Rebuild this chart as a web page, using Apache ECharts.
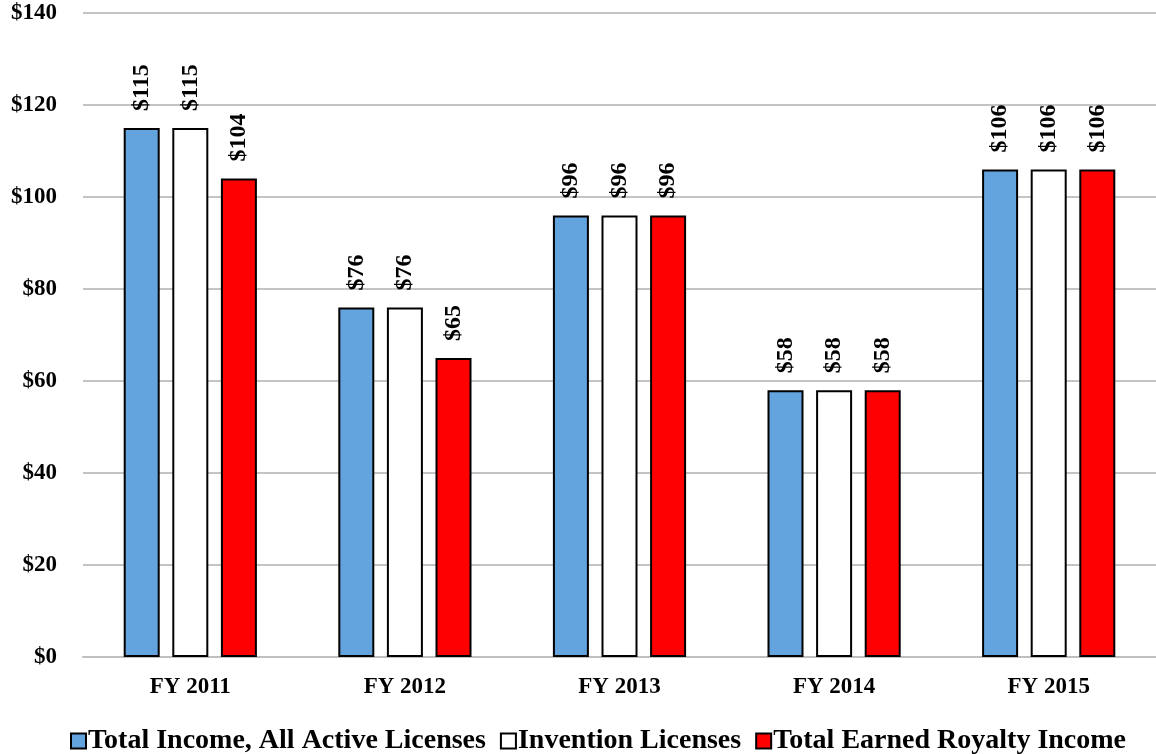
<!DOCTYPE html>
<html>
<head>
<meta charset="utf-8">
<script src="https://cdn.jsdelivr.net/npm/echarts@6/dist/echarts.min.js"></script>
<style>
  html, body { margin: 0; padding: 0; background: #fff; }
  #main { width: 1156px; height: 754px; }
</style>
</head>
<body>
<div id="main"></div>
<script>
var categories = ['FY 2011', 'FY 2012', 'FY 2013', 'FY 2014', 'FY 2015'];
var totalIncome = [115, 76, 96, 58, 106];
var inventionLicenses = [115, 76, 96, 58, 106];
var earnedRoyalty = [104, 65, 96, 58, 106];
var seriesNames = ['Total Income, All Active Licenses', 'Invention Licenses', 'Total Earned Royalty Income'];

var font = '"Liberation Serif", "Times New Roman", serif';
var myChart = echarts.init(document.getElementById('main'));

function makeSeries(name, data, color) {
    return {
        name: name,
        type: 'bar',
        data: data,
        barWidth: 36,
        barGap: '35%',
        itemStyle: {color: color, borderColor: '#000', borderWidth: 2},
        label: {
            show: true,
            position: 'top',
            rotate: 90,
            align: 'left',
            verticalAlign: 'middle',
            distance: 17,
            formatter: '${c}',
            color: '#000',
            fontFamily: font,
            fontWeight: 'bold',
            fontSize: 24
        }
    };
}

myChart.setOption({
    animation: false,
    grid: {left: 83, top: 13, width: 1080, bottom: 97},
    legend: {
        top: 722,
        left: 65,
        itemWidth: 15,
        itemHeight: 15,
        itemGap: 14,
        icon: 'rect',
        textStyle: {fontFamily: font, fontWeight: 'bold', fontSize: 28, color: '#000', padding: [0, 0, 0, -3]}
    },
    xAxis: {
        type: 'category',
        data: categories,
        axisLine: {lineStyle: {color: '#bfbfbf', width: 2}},
        axisTick: {show: false},
        axisLabel: {margin: 19, fontFamily: font, fontWeight: 'bold', fontSize: 23, color: '#000'}
    },
    yAxis: {
        type: 'value',
        min: 0,
        max: 140,
        interval: 20,
        axisLine: {show: false},
        axisTick: {show: false},
        splitLine: {lineStyle: {color: '#c4c4c4', width: 2}},
        axisLabel: {margin: 26, formatter: '${value}', fontFamily: font, fontWeight: 'bold', fontSize: 23, color: '#000'}
    },
    series: [
        makeSeries(seriesNames[0], totalIncome, '#63a3de'),
        makeSeries(seriesNames[1], inventionLicenses, '#ffffff'),
        makeSeries(seriesNames[2], earnedRoyalty, '#ff0000')
    ]
});
</script>
</body>
</html>
